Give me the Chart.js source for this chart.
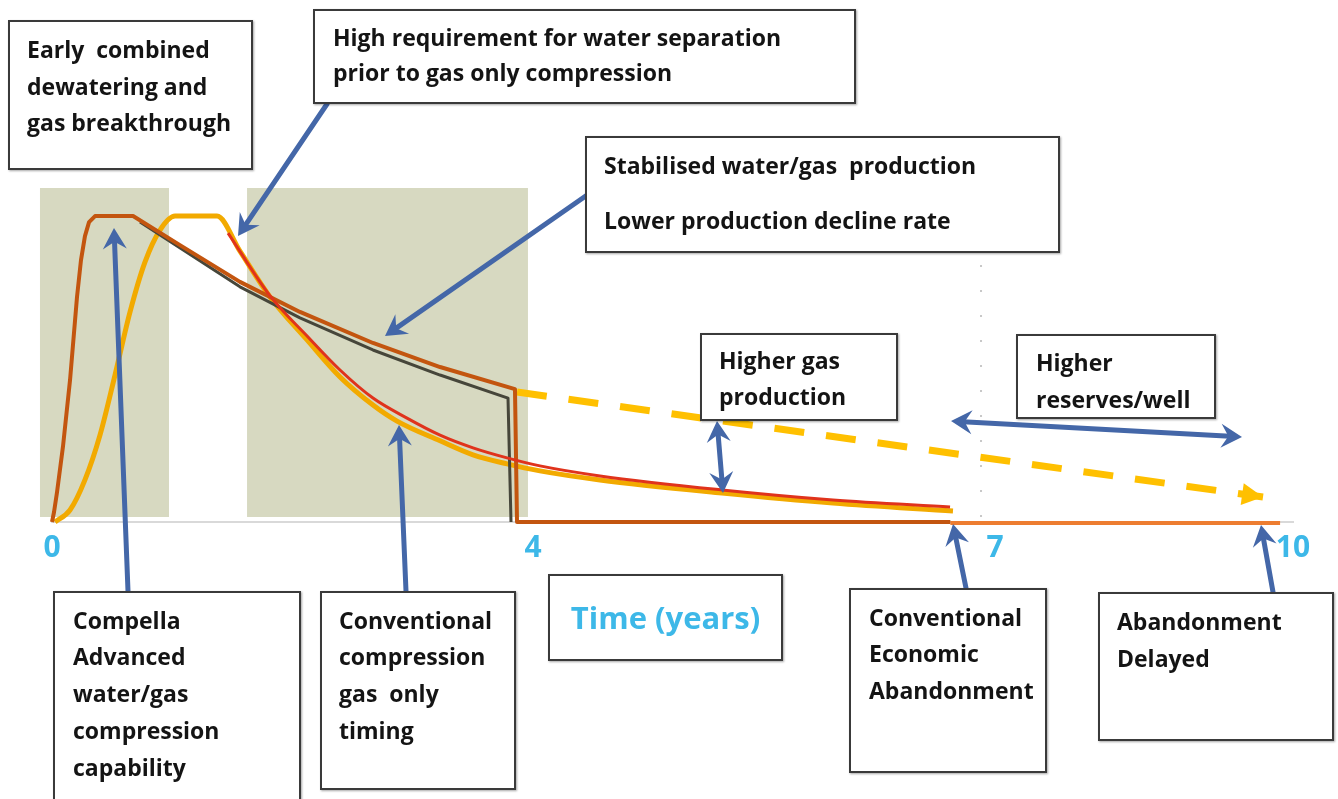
<!DOCTYPE html>
<html>
<head>
<meta charset="utf-8">
<script src="https://cdn.jsdelivr.net/npm/chart.js@4.4.1/dist/chart.umd.min.js"></script>
<style>
  body { margin: 0; background: #fff; width: 1338px; height: 799px; overflow: hidden; position: relative; font-family: "Open Sans", sans-serif; }
  #chart { position: absolute; left: 0; top: 0; }
  .note { position: absolute; box-sizing: border-box; border: 2px solid #3a3a3a; background: #fff;
          font-weight: 700; font-size: 23px; color: #141414; white-space: pre;
          box-shadow: 1px 1px 2px rgba(0,0,0,.35); }
  .time { color: #3db8e8; font-size: 31px; text-align: center; }
</style>
</head>
<body>
<canvas id="chart" width="1338" height="799"></canvas>
<script>
// ===============================
// DATA (x = years, y = production, % of band height)
// ===============================
const tickYears = [0, 4, 7, 10];
const tickLabels = ["0", "4", "7", "10"];

// Compella advanced water/gas compression
const compellaX = [0, 0.017, 0.042, 0.091, 0.15, 0.208, 0.241, 0.274, 0.308, 0.358, 0.674, 1.064, 1.563, 2.062, 2.669, 3.227, 3.85, 3.867, 6.71];
const compellaY = [0, 3.0, 9.0, 22.5, 42.5, 67.4, 78.4, 85.6, 89.8, 91.6, 91.6, 82.9, 71.9, 62.9, 53.6, 46.4, 39.8, 0, 0];

// gas only line just under the Compella decline
const gasOnlyX = [0.732, 1.563, 2.062, 2.669, 3.227, 3.792, 3.817];
const gasOnlyY = [89.8, 70.4, 61.1, 51.5, 44.0, 37.1, 0];

// conventional compression
const convX = [0.025, 0.15, 0.274, 0.399, 0.524, 0.649, 0.773, 0.898, 1.023, 1.372, 1.563, 1.813, 2.121, 2.395, 2.669, 2.869, 3.227, 3.501, 3.784, 4.045, 4.435, 5.227, 5.948, 6.727];
const convY = [0, 3.6, 12.6, 26.0, 44.0, 62.9, 77.8, 87.4, 91.6, 91.6, 81.1, 67.4, 54.5, 43.4, 35.0, 30.2, 24.3, 20.1, 17.4, 15.3, 12.6, 8.7, 5.7, 3.3];

// higher gas production curve
const higherX = [1.464, 1.813, 2.121, 2.395, 2.669, 2.952, 3.227, 3.501, 3.784, 4.045, 4.435, 5.227, 5.948, 6.708];
const higherY = [86.5, 67.7, 55.7, 45.5, 37.1, 31.1, 26.0, 22.2, 19.2, 16.8, 13.8, 9.6, 6.6, 4.5];

// extended Compella production (dashed)
const extendedX = [3.867, 9.698];
const extendedY = [38.9, 7.5];

// delayed abandonment line on the axis
const delayedX = [6.71, 9.87];
const delayedY = [-0.3, -0.3];

// phase bands
const bandStart = [-0.1, 1.622];
const bandEnd = [0.973, 3.958];

// faint dotted marker
const markerX = [6.909, 6.909];
const markerY = [1.5, 80];

// ===============================
// LAYOUT (page pixels)
// ===============================
// schematic time axis: share of axis width reached at each tick
const axisKnots = [[0, 0], [4, 0.3876], [7, 0.7599], [10, 1]];

const notes = [
  { x: 8, y: 20, w: 245, h: 150, lh: 36.5, pt: 9, pl: 17, text: "Early  combined\ndewatering and\ngas breakthrough" },
  { x: 313, y: 9, w: 543, h: 95, lh: 35, pt: 9, pl: 18, text: "High requirement for water separation\nprior to gas only compression" },
  { x: 585, y: 136, w: 475, h: 117, lh: 55, pt: 0, pl: 17, text: "Stabilised water/gas  production\nLower production decline rate" },
  { x: 700, y: 333, w: 198, h: 88, lh: 36, pt: 7, pl: 17, text: "Higher gas\nproduction" },
  { x: 1016, y: 334, w: 200, h: 85, lh: 37, pt: 8, pl: 18, text: "Higher\nreserves/well" },
  { x: 53, y: 591, w: 248, h: 215, lh: 36.75, pt: 8.5, pl: 18, text: "Compella\nAdvanced\nwater/gas\ncompression\ncapability" },
  { x: 320, y: 591, w: 196, h: 199, lh: 36.75, pt: 8.5, pl: 17, text: "Conventional\ncompression\ngas  only\ntiming" },
  { x: 849, y: 588, w: 198, h: 185, lh: 36.5, pt: 8.5, pl: 18, text: "Conventional\nEconomic\nAbandonment" },
  { x: 1098, y: 592, w: 236, h: 149, lh: 37, pt: 8.5, pl: 17, text: "Abandonment\nDelayed" },
];

// [x1, y1, x2 (tip), y2 (tip), double headed]
const arrows = [
  [327, 104, 238, 236, false],
  [590, 193, 385, 336, false],
  [128, 591, 114, 228, false],
  [406, 591, 399, 425, false],
  [717, 421, 723, 493, true],
  [951, 421, 1242, 437, true],
  [966, 588, 953, 524, false],
  [1273, 592, 1261, 525, false],
];

// ===============================
// NOTES
// ===============================
notes.forEach(n => {
  const div = document.createElement("div");
  div.className = "note";
  div.style.cssText = `left:${n.x}px;top:${n.y}px;width:${n.w}px;height:${n.h}px;line-height:${n.lh}px;padding:${n.pt}px 0 0 ${n.pl}px`;
  div.textContent = n.text;
  document.body.appendChild(div);
});
const timeBox = document.createElement("div");
timeBox.className = "note time";
timeBox.style.cssText = "left:548px;top:574px;width:235px;height:87px;line-height:83px";
timeBox.textContent = "Time (years)";
document.body.appendChild(timeBox);

// ===============================
// SCHEMATIC TIME SCALE
// ===============================
function interp(v, from, to) {
  let i = 1;
  while (i < axisKnots.length - 1 && v > axisKnots[i][from]) i++;
  const a = axisKnots[i - 1], b = axisKnots[i];
  return a[to] + (v - a[from]) / (b[from] - a[from]) * (b[to] - a[to]);
}

class WarpScale extends Chart.LinearScale {
  getPixelForValue(value) {
    if (value === null || isNaN(value)) return NaN;
    return this.getPixelForDecimal(interp(value, 0, 1));
  }
  getValueForPixel(pixel) {
    return interp(this.getDecimalForPixel(pixel), 1, 0);
  }
}
WarpScale.id = "warp";
WarpScale.defaults = Chart.LinearScale.defaults;
Chart.register(WarpScale);

// ===============================
// PLUGINS
// ===============================
const bandsPlugin = {
  id: "bands",
  beforeDatasetsDraw(chart) {
    const { ctx, scales: { x, y } } = chart;
    ctx.save();
    ctx.fillStyle = "#d7d9c1";
    bandStart.forEach((s, i) => {
      const l = x.getPixelForValue(s), r = x.getPixelForValue(bandEnd[i]);
      const t = y.getPixelForValue(100), b = y.getPixelForValue(1.5);
      ctx.fillRect(l, t, r - l, b - t);
    });
    ctx.restore();
  }
};

function stealthHead(ctx, tx, ty, ang, len, half) {
  const c = Math.cos(ang), s = Math.sin(ang);
  ctx.beginPath();
  ctx.moveTo(tx, ty);
  ctx.lineTo(tx - len * c + half * s, ty - len * s - half * c);
  ctx.lineTo(tx - len * 0.65 * c, ty - len * 0.65 * s);
  ctx.lineTo(tx - len * c - half * s, ty - len * s + half * c);
  ctx.closePath();
  ctx.fill();
}

const arrowsPlugin = {
  id: "arrows",
  afterDatasetsDraw(chart) {
    const ctx = chart.ctx;
    ctx.save();
    // dashed extension head
    const meta = chart.getDatasetMeta(4);
    const p = meta.data[meta.data.length - 1], q = meta.data[meta.data.length - 2];
    ctx.fillStyle = "#ffc000";
    const ang = Math.atan2(p.y - q.y, p.x - q.x);
    const c = Math.cos(ang), s = Math.sin(ang);
    ctx.beginPath();
    ctx.moveTo(p.x, p.y);
    ctx.lineTo(p.x - 21 * c + 11 * s, p.y - 21 * s - 11 * c);
    ctx.lineTo(p.x - 21 * c - 11 * s, p.y - 21 * s + 11 * c);
    ctx.closePath();
    ctx.fill();

    ctx.strokeStyle = "#4467a8";
    ctx.fillStyle = "#4467a8";
    ctx.lineWidth = 5;
    ctx.lineCap = "round";
    arrows.forEach(([x1, y1, x2, y2, dbl]) => {
      const a = Math.atan2(y2 - y1, x2 - x1);
      const c2 = Math.cos(a), s2 = Math.sin(a);
      const sx = dbl ? x1 + 12 * c2 : x1, sy = dbl ? y1 + 12 * s2 : y1;
      ctx.beginPath();
      ctx.moveTo(sx, sy);
      ctx.lineTo(x2 - 12 * c2, y2 - 12 * s2);
      ctx.stroke();
      stealthHead(ctx, x2, y2, a, 21, 12);
      if (dbl) stealthHead(ctx, x1, y1, a + Math.PI, 21, 12);
    });
    ctx.restore();
  }
};

// ===============================
// CHART
// ===============================
const pts = (xs, ys) => xs.map((v, i) => ({ x: v, y: ys[i] }));
const line = (data, color, width, extra) => Object.assign({
  data, borderColor: color, borderWidth: width, pointRadius: 0, fill: false,
  tension: 0, borderJoinStyle: "round", clip: false
}, extra || {});
const smooth = { cubicInterpolationMode: "monotone" };

new Chart(document.getElementById("chart"), {
  type: "line",
  data: {
    datasets: [
      line(pts(higherX, higherY), "#e0331c", 3, smooth),
      line(pts(compellaX, compellaY), "#c3550f", 4),
      line(pts(gasOnlyX, gasOnlyY), "#46463a", 3),
      line(pts(convX, convY), "#f2aa00", 5, smooth),
      line(pts(extendedX, extendedY), "#ffc000", 7, { borderDash: [30, 22], borderJoinStyle: "miter" }),
      line(pts(delayedX, delayedY), "#ed7d31", 4),
      line(pts(markerX, markerY), "#c8c8c8", 2, { borderDash: [2, 23] }),
    ]
  },
  options: {
    responsive: false,
    animation: false,
    devicePixelRatio: 1,
    layout: { padding: { left: 52, right: 45, top: 188, bottom: 229 } },
    plugins: { legend: { display: false }, tooltip: { enabled: false } },
    scales: {
      x: {
        type: "warp",
        min: 0,
        max: 10,
        afterBuildTicks: axis => { axis.ticks = tickYears.map(v => ({ value: v })); },
        afterFit: axis => { axis.height = 48; },
        grid: { display: false, drawTicks: false },
        border: { color: "#d9d9d9", width: 2 },
        ticks: {
          autoSkip: false,
          maxRotation: 0,
          padding: 8,
          color: "#3db8e8",
          font: { family: "Open Sans", size: 30, weight: "bold" },
          callback: (v, i) => tickLabels[i]
        }
      },
      y: { display: false, min: 0, max: 100 }
    }
  },
  plugins: [bandsPlugin, arrowsPlugin]
});
</script>
</body>
</html>
